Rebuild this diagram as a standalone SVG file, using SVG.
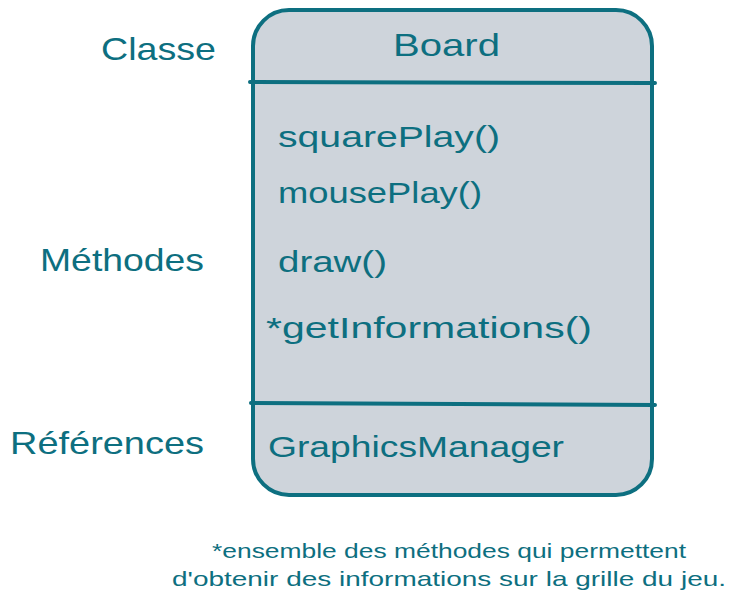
<svg xmlns="http://www.w3.org/2000/svg" width="734" height="606" viewBox="0 0 734 606">
<style>
.t{font-family:"Liberation Sans","DejaVu Sans",sans-serif;fill:#0d6f80}
.big{font-size:32px}
.m{font-size:30px}
.s{font-size:21px}
.ln{stroke:#0d6f80;stroke-width:4;stroke-linecap:round;fill:none}
</style>
<rect width="734" height="606" fill="#ffffff"/>
<g id="labels">
<text class="t big" x="101" y="60" textLength="115" lengthAdjust="spacingAndGlyphs">Classe</text>
<text class="t big" x="40" y="271" textLength="164" lengthAdjust="spacingAndGlyphs">Méthodes</text>
<text class="t big" x="10" y="454" textLength="194" lengthAdjust="spacingAndGlyphs">Références</text>
</g>
<g id="board">
<rect x="253" y="10" width="399" height="485" rx="36" ry="36" fill="#ced4db" stroke="#0d6f80" stroke-width="4"/>
<line class="ln" x1="250" y1="82" x2="655" y2="83"/>
<line class="ln" x1="251" y1="403" x2="655" y2="405"/>
<text class="t big" x="393" y="56" textLength="107" lengthAdjust="spacingAndGlyphs">Board</text>
<text class="t m" x="278" y="147" textLength="222" lengthAdjust="spacingAndGlyphs">squarePlay()</text>
<text class="t m" x="278" y="203" textLength="204" lengthAdjust="spacingAndGlyphs">mousePlay()</text>
<text class="t m" x="278" y="272" textLength="109" lengthAdjust="spacingAndGlyphs">draw()</text>
<text class="t m" x="266" y="338" textLength="326" lengthAdjust="spacingAndGlyphs">*getInformations()</text>
<text class="t m" x="268" y="457" textLength="296" lengthAdjust="spacingAndGlyphs">GraphicsManager</text>
</g>
<g id="note">
<text class="t s" x="212" y="558" textLength="474" lengthAdjust="spacingAndGlyphs">*ensemble des méthodes qui permettent</text>
<text class="t s" x="172" y="586" textLength="554" lengthAdjust="spacingAndGlyphs">d'obtenir des informations sur la grille du jeu.</text>
</g>
<g id="connectors"></g>
</svg>
